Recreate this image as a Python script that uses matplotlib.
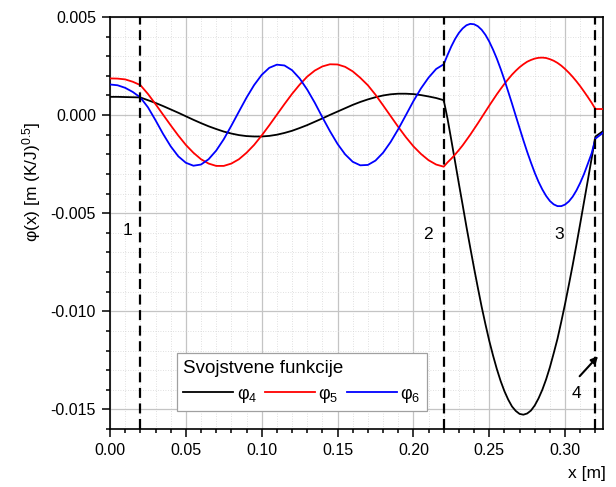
import matplotlib
matplotlib.use("Agg")
import matplotlib.pyplot as plt
from matplotlib.ticker import MultipleLocator, FormatStrFormatter

plt.rcParams['font.family'] = ['Liberation Sans', 'DejaVu Sans']
plt.rcParams['mathtext.fontset'] = 'custom'
plt.rcParams['mathtext.rm'] = 'Liberation Sans'
plt.rcParams['mathtext.it'] = 'Liberation Sans:italic'
plt.rcParams['axes.unicode_minus'] = False

# ---------------- data ----------------
x_vals = [0.000, 0.005, 0.010, 0.015, 0.020, 0.025, 0.030, 0.035, 0.040, 0.045,
          0.050, 0.055, 0.060, 0.065, 0.070, 0.075, 0.080, 0.085, 0.090, 0.095,
          0.100, 0.105, 0.110, 0.115, 0.120, 0.125, 0.130, 0.135, 0.140, 0.145,
          0.150, 0.155, 0.160, 0.165, 0.170, 0.175, 0.180, 0.185, 0.190, 0.195,
          0.200, 0.205, 0.210, 0.215, 0.220,
          0.2225, 0.225, 0.2275, 0.230, 0.2325, 0.235, 0.2375, 0.240, 0.2425, 0.245,
          0.2475, 0.250, 0.2525, 0.255, 0.2575, 0.260, 0.2625, 0.265, 0.2675, 0.270,
          0.2725, 0.275, 0.2775, 0.280, 0.2825, 0.285, 0.2875, 0.290, 0.2925, 0.295,
          0.2975, 0.300, 0.3025, 0.305, 0.3075, 0.310, 0.3125, 0.315, 0.3175, 0.320,
          0.325]

phi4 = [0.00093, 0.00093, 0.00092, 0.00091, 0.00090, 0.00076, 0.00062, 0.00046, 0.00029, 0.00012,
        -0.00006, -0.00024, -0.00041, -0.00057, -0.00071, -0.00084, -0.00094, -0.00102, -0.00107, -0.00109,
        -0.00109, -0.00106, -0.00100, -0.00091, -0.00080, -0.00066, -0.00051, -0.00034, -0.00017, 0.00001,
        0.00018, 0.00035, 0.00052, 0.00067, 0.00080, 0.00091, 0.00100, 0.00106, 0.00109, 0.00109,
        0.00107, 0.00102, 0.00095, 0.00087, 0.00076,
        -0.00018, -0.00127, -0.00238, -0.00350, -0.00459, -0.00570, -0.00676, -0.00780, -0.00880, -0.00977,
        -0.01066, -0.01150, -0.01225, -0.01294, -0.01355, -0.01407, -0.01450, -0.01485, -0.01508, -0.01523,
        -0.01527, -0.01521, -0.01506, -0.01480, -0.01444, -0.01400, -0.01347, -0.01285, -0.01214, -0.01140,
        -0.01053, -0.00962, -0.00865, -0.00765, -0.00660, -0.00552, -0.00442, -0.00332, -0.00221, -0.00109,
        -0.00082]

phi5 = [0.00187, 0.00186, 0.00182, 0.00170, 0.00153, 0.00108, 0.00056, 0.00002, -0.00052, -0.00104,
        -0.00152, -0.00192, -0.00225, -0.00247, -0.00259, -0.00259, -0.00247, -0.00225, -0.00192, -0.00152,
        -0.00104, -0.00052, 0.00002, 0.00056, 0.00108, 0.00155, 0.00196, 0.00227, 0.00248, 0.00259,
        0.00258, 0.00246, 0.00223, 0.00190, 0.00152, 0.00104, 0.00050, -0.00005, -0.00060, -0.00112,
        -0.00159, -0.00198, -0.00230, -0.00252, -0.00263,
        -0.00241, -0.00222, -0.00201, -0.00178, -0.00154, -0.00127, -0.00100, -0.00071, -0.00042, -0.00012,
        0.00018, 0.00048, 0.00077, 0.00106, 0.00133, 0.00159, 0.00183, 0.00206, 0.00226, 0.00244,
        0.00259, 0.00272, 0.00281, 0.00288, 0.00292, 0.00293, 0.00291, 0.00285, 0.00277, 0.00266,
        0.00252, 0.00235, 0.00216, 0.00195, 0.00172, 0.00147, 0.00120, 0.00092, 0.00063, 0.00031,
        0.00031]

phi6 = [0.00156, 0.00152, 0.00139, 0.00118, 0.00090, 0.00040, -0.00026, -0.00096, -0.00159, -0.00210,
        -0.00243, -0.00258, -0.00252, -0.00225, -0.00181, -0.00123, -0.00054, 0.00018, 0.00089, 0.00153,
        0.00205, 0.00241, 0.00257, 0.00253, 0.00229, 0.00187, 0.00130, 0.00063, -0.00011, -0.00082,
        -0.00147, -0.00200, -0.00238, -0.00256, -0.00254, -0.00232, -0.00192, -0.00137, -0.00072, -0.00001,
        0.00071, 0.00136, 0.00191, 0.00235, 0.00259,
        0.00306, 0.00350, 0.00388, 0.00419, 0.00442, 0.00458, 0.00465, 0.00463, 0.00453, 0.00435,
        0.00409, 0.00375, 0.00334, 0.00288, 0.00236, 0.00180, 0.00120, 0.00059, -0.00004, -0.00066,
        -0.00128, -0.00187, -0.00242, -0.00294, -0.00340, -0.00379, -0.00412, -0.00438, -0.00455, -0.00464,
        -0.00464, -0.00456, -0.00440, -0.00416, -0.00384, -0.00345, -0.00300, -0.00248, -0.00195, -0.00120,
        -0.00090]

series_labels = ['φ$_4$', 'φ$_5$', 'φ$_6$']
series_colors = ['black', '#ff0000', '#0000ff']

boundaries = [0.02, 0.22, 0.32]
region_labels = ['1', '2', '3', '4']
region_label_x = [0.0117, 0.2097, 0.2964, 0.3074]
region_label_y = [-0.0059, -0.0061, -0.0061, -0.0142]

legend_title = 'Svojstvene funkcije'
x_label = 'x [m]'
y_label = 'φ(x) [m (K/J)$^{0.5}$]'

# ---------------- figure ----------------
fig = plt.figure(figsize=(6.16, 4.87), dpi=100)
ax = fig.add_axes([110/616, 1-429/487, 493/616, 412/487])

ax.set_xlim(0, 0.325)
ax.set_ylim(-0.016, 0.005)

ax.xaxis.set_major_locator(MultipleLocator(0.05))
ax.xaxis.set_minor_locator(MultipleLocator(0.01))
ax.yaxis.set_major_locator(MultipleLocator(0.005))
ax.yaxis.set_minor_locator(MultipleLocator(0.001))
ax.xaxis.set_major_formatter(FormatStrFormatter('%.2f'))
ax.yaxis.set_major_formatter(FormatStrFormatter('%.3f'))

ax.grid(which='major', color='#c4c4c4', linewidth=0.9, linestyle='-')
ax.grid(which='minor', color='#d6d6d6', linewidth=0.6, linestyle=(0, (1, 2)))
ax.set_axisbelow(True)

for s in ax.spines.values():
    s.set_linewidth(1.2)

ax.tick_params(which='major', direction='out', length=6, width=1.1, labelsize=11.5, pad=4,
               top=False, right=False)
ax.tick_params(which='minor', direction='out', length=3, width=1.1, top=False, right=False)

lines = []
for ys, lab, col in zip([phi4, phi5, phi6], series_labels, series_colors):
    ln, = ax.plot(x_vals, ys, color=col, linewidth=1.3, label=lab, zorder=3)
    lines.append(ln)

for b in boundaries:
    ax.axvline(b, color='black', linewidth=1.6, linestyle=(0, (4.5, 2.5)), zorder=4)

for t, tx, ty in zip(region_labels, region_label_x, region_label_y):
    ax.text(tx, ty, t, fontsize=12.5, ha='center', va='center', zorder=5)

ax.annotate('', xy=(0.3217, -0.01229), xytext=(0.3096, -0.01331),
            arrowprops=dict(arrowstyle='-|>', color='black', lw=1.5,
                            mutation_scale=10, shrinkA=0, shrinkB=0), zorder=5)

ax.set_xlabel(x_label, fontsize=12.5, ha='right')
ax.xaxis.set_label_coords(1.006, -0.09)
ax.set_ylabel(y_label, fontsize=12.5)
ax.yaxis.set_label_coords(-0.135, 0.60)

leg = ax.legend(handles=lines, title=legend_title, ncol=3, loc='lower left',
                bbox_to_anchor=(0.136, 0.044), fontsize=13, title_fontsize=13.5,
                frameon=True, fancybox=False, edgecolor='#a0a0a0', framealpha=1,
                handlelength=2.75, handletextpad=0.2, columnspacing=0.45,
                borderpad=0.35, borderaxespad=0, alignment='left')
leg.get_frame().set_linewidth(0.9)
leg.set_zorder(6)

fig.savefig('out.png', dpi=100)
